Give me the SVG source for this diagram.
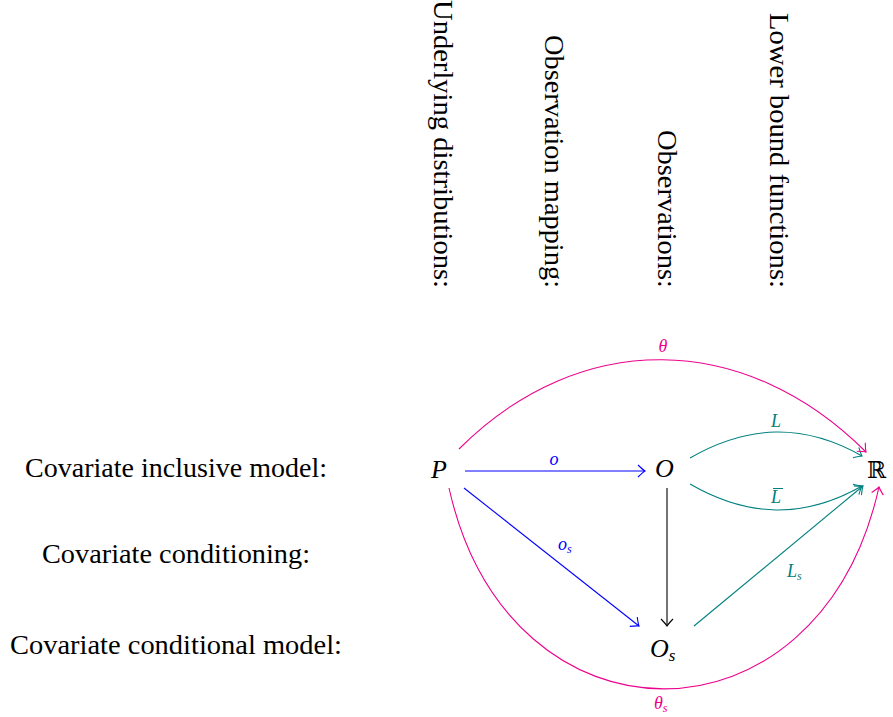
<svg xmlns="http://www.w3.org/2000/svg" width="893" height="717" viewBox="0 0 893 717">
<style>
.lbl{font-family:"Liberation Serif","DejaVu Serif",serif;font-size:28px;fill:#000}
.node{font-family:"Liberation Serif","DejaVu Serif",serif;font-style:italic;font-size:26px;fill:#000}
.sub{font-family:"Liberation Serif","DejaVu Serif",serif;font-style:italic;font-size:17px}
.ml{font-family:"Liberation Serif","DejaVu Serif",serif;font-style:italic;font-size:18px}
.ms{font-family:"Liberation Serif","DejaVu Serif",serif;font-style:italic;font-size:12px}
.e{fill:none;stroke-width:1.1}
.blue{stroke:#0000ff}.teal{stroke:#008080}.mag{stroke:#ec008c}.blk{stroke:#000}
</style>
<defs>
<marker id="ab" markerUnits="userSpaceOnUse" markerWidth="16" markerHeight="16" refX="0" refY="0" viewBox="-9 -8 10 16" orient="auto"><path d="M-7,-6 Q-2,-1.2 0,0 Q-2,1.2 -7,6" fill="none" stroke="#0000ff" stroke-width="1.1"/></marker>
<marker id="at" markerUnits="userSpaceOnUse" markerWidth="16" markerHeight="16" refX="0" refY="0" viewBox="-9 -8 10 16" orient="auto"><path d="M-7,-6 Q-2,-1.2 0,0 Q-2,1.2 -7,6" fill="none" stroke="#008080" stroke-width="1.1"/></marker>
<marker id="am" markerUnits="userSpaceOnUse" markerWidth="16" markerHeight="16" refX="0" refY="0" viewBox="-9 -8 10 16" orient="auto"><path d="M-7,-6 Q-2,-1.2 0,0 Q-2,1.2 -7,6" fill="none" stroke="#ec008c" stroke-width="1.1"/></marker>
<marker id="ak" markerUnits="userSpaceOnUse" markerWidth="16" markerHeight="16" refX="0" refY="0" viewBox="-9 -8 10 16" orient="auto"><path d="M-7,-6 Q-2,-1.2 0,0 Q-2,1.2 -7,6" fill="none" stroke="#000" stroke-width="1.1"/></marker>
</defs>

<g id="row-labels">
<text class="lbl" x="25" y="477" textLength="302" lengthAdjust="spacingAndGlyphs">Covariate inclusive model:</text>
<text class="lbl" x="42" y="563" textLength="268" lengthAdjust="spacingAndGlyphs">Covariate conditioning:</text>
<text class="lbl" x="10" y="654" textLength="332" lengthAdjust="spacingAndGlyphs">Covariate conditional model:</text>
</g>

<g id="column-labels">
<text class="lbl" transform="translate(434,288) rotate(90)" text-anchor="end" textLength="288" lengthAdjust="spacingAndGlyphs">Underlying distributions:</text>
<text class="lbl" transform="translate(545,288) rotate(90)" text-anchor="end" textLength="253" lengthAdjust="spacingAndGlyphs">Observation mapping:</text>
<text class="lbl" transform="translate(658,288) rotate(90)" text-anchor="end" textLength="158" lengthAdjust="spacingAndGlyphs">Observations:</text>
<text class="lbl" transform="translate(770,288) rotate(90)" text-anchor="end" textLength="275" lengthAdjust="spacingAndGlyphs">Lower bound functions:</text>
</g>

<g id="node-P"><text class="node" x="431" y="478">P</text></g>
<g id="node-O"><text class="node" x="655" y="477">O</text></g>
<g id="node-R"><text x="867" y="478" style="font-family:'DejaVu Serif','DejaVu Sans',serif;font-size:23px">ℝ</text></g>
<g id="node-Os"><text class="node" x="650" y="657">O<tspan class="sub" dy="4">s</tspan></text></g>

<g id="connectors">
<path class="e blue" d="M465,471 L645,471" marker-end="url(#ab)"/>
<path class="e blue" d="M464,488 L639,626" marker-end="url(#ab)"/>
<path class="e blk" d="M667,488 L667,626" marker-end="url(#ak)"/>
<path class="e teal" d="M690,458 C748,424.5 804,423 862,456" marker-end="url(#at)"/>
<path class="e teal" d="M690,484 C748,517.5 804,519 862,486" marker-end="url(#at)"/>
<path class="e teal" d="M694,626 L863,486" marker-end="url(#at)"/>
<path class="e mag" d="M459,449 C580,328 745,331 866,452" marker-end="url(#am)"/>
<path class="e mag" d="M449,488 C509,756 819,756 879,487" marker-end="url(#am)"/>

<text class="ml" x="554" y="465" text-anchor="middle" fill="#0000ff">o</text>
<text class="ml" x="558" y="550" fill="#0000ff">o<tspan class="ms" dy="3">s</tspan></text>
<text class="ml" x="771" y="427" fill="#008080">L</text>
<text class="ml" x="771" y="503" fill="#008080">L</text>
<path d="M773,488.5 L783,488.5" stroke="#008080" stroke-width="1"/>
<text class="ml" x="787" y="577" fill="#008080">L<tspan class="ms" dy="3">s</tspan></text>
<text class="ml" x="663" y="352" text-anchor="middle" fill="#ec008c">θ</text>
<text class="ml" x="654" y="709" fill="#ec008c">θ<tspan class="ms" dy="3">s</tspan></text>
</g>
</svg>
